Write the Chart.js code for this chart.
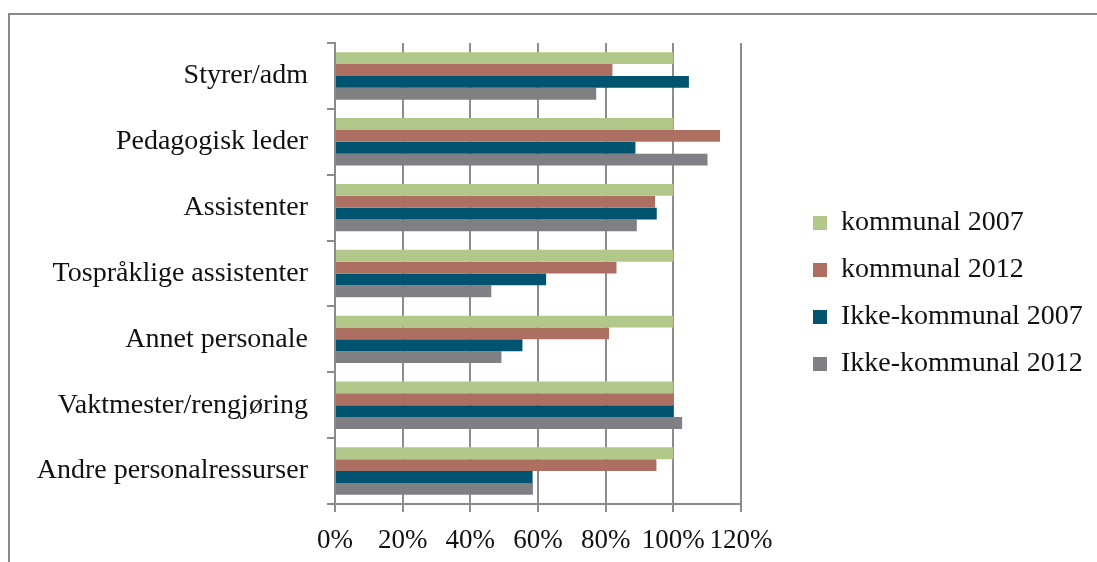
<!DOCTYPE html>
<html>
<head>
<meta charset="utf-8">
<script src="https://cdn.jsdelivr.net/npm/chart.js@4/dist/chart.umd.min.js"></script>
<style>
  html, body { margin: 0; padding: 0; background: #fff; }
  #wrap { position: relative; width: 1097px; height: 562px; overflow: hidden; }
  #frame { position: absolute; left: 8px; top: 13px; width: 1200px; height: 700px;
           border-top: 2px solid #8a8a8a; border-left: 2px solid #8a8a8a; box-sizing: border-box; }
  canvas { position: absolute; left: 0; top: 0; }
</style>
</head>
<body>
<div id="wrap">
  <div id="frame"></div>
  <canvas id="c" width="1097" height="562"></canvas>
</div>
<script>
// Staff categories, top to bottom
const categories = [
  'Styrer/adm',
  'Pedagogisk leder',
  'Assistenter',
  'Tospråklige assistenter',
  'Annet personale',
  'Vaktmester/rengjøring',
  'Andre personalressurser'
];

// Index values in percent
const kommunal2007      = [100, 100, 100, 100, 100, 100, 100];
const kommunal2012      = [82.0, 113.8, 94.6, 83.2, 81.0, 100.0, 95.0];
const ikkeKommunal2007  = [104.6, 88.8, 95.1, 62.4, 55.4, 100.1, 58.4];
const ikkeKommunal2012  = [77.2, 110.1, 89.2, 46.2, 49.2, 102.6, 58.5];

const seriesNames = ['kommunal 2007', 'kommunal 2012', 'Ikke-kommunal 2007', 'Ikke-kommunal 2012'];
const tickValues = [0, 20, 40, 60, 80, 100, 120];

const colors = ['#B2C88A', '#AE6F63', '#00546F', '#807F84'];
const seriesData = [kommunal2007, kommunal2012, ikkeKommunal2007, ikkeKommunal2012];

const FONT = "'Liberation Serif', 'Times New Roman', serif";
const gridColor = '#8c8c8c';

// Fixed legend column on the right side of the plot
const legendPlacement = {
  id: 'legendPlacement',
  afterInit(chart) {
    const lg = chart.legend;
    const fit = lg.fit.bind(lg);
    lg.fit = function () { fit(); this.width = 356; };
  },
  afterLayout(chart) {
    const lg = chart.legend;
    const w = lg.width, h = lg.height;
    lg.left = 794; lg.right = lg.left + w;
    lg.top = 190; lg.bottom = lg.top + h;
  }
};

new Chart(document.getElementById('c'), {
  type: 'bar',
  data: {
    labels: categories,
    datasets: seriesNames.map((name, i) => ({
      label: name,
      data: seriesData[i],
      backgroundColor: colors[i],
      borderWidth: 0,
      categoryPercentage: 0.72,
      barPercentage: 1.0
    }))
  },
  options: {
    indexAxis: 'y',
    responsive: false,
    animation: false,
    layout: { padding: { left: 0, top: 43, right: 0, bottom: 0 } },
    plugins: {
      tooltip: { enabled: false },
      legend: {
        position: 'right',
        align: 'start',
        labels: {
          font: { family: FONT, size: 28 },
          color: '#111',
          boxWidth: 14,
          boxHeight: 14,
          padding: 19
        }
      }
    },
    scales: {
      x: {
        min: 0,
        max: 120,
        afterBuildTicks: (scale) => { scale.ticks = tickValues.map(v => ({ value: v })); },
        afterFit: (scale) => { scale.height = 58; },
        ticks: {
          callback: (v) => v + '%',
          font: { family: FONT, size: 27 },
          color: '#111',
          padding: 13,
          maxRotation: 0,
          autoSkip: false
        },
        grid: { color: gridColor, lineWidth: 2, tickLength: 8, drawTicks: true },
        border: { color: gridColor, width: 2 }
      },
      y: {
        afterFit: (scale) => { scale.width = 335; },
        ticks: {
          font: { family: FONT, size: 28 },
          color: '#111',
          padding: 19,
          autoSkip: false
        },
        grid: { drawOnChartArea: false, color: gridColor, lineWidth: 2, tickLength: 8, offset: true },
        border: { color: gridColor, width: 2 }
      }
    }
  },
  plugins: [legendPlacement]
});
</script>
</body>
</html>
